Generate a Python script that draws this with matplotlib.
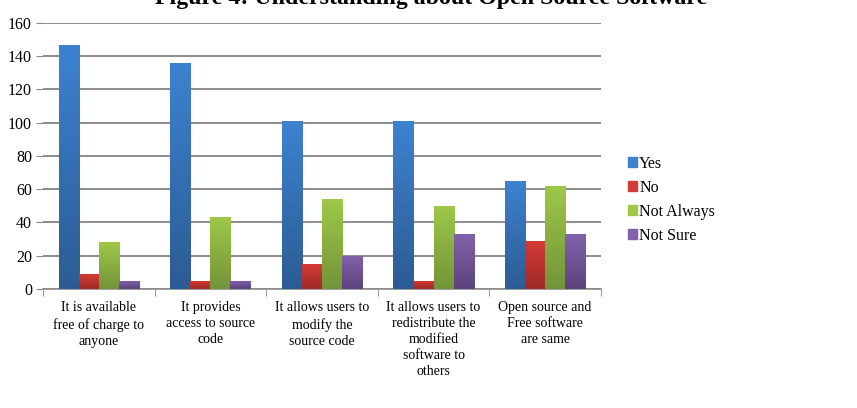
import matplotlib
matplotlib.use("Agg")
import matplotlib.pyplot as plt
import numpy as np

categories = [
    "It is available\nfree of charge to\nanyone",
    "It provides\naccess to source\ncode",
    "It allows users to\nmodify the\nsource code",
    "It allows users to\nredistribute the\nmodified\nsoftware to\nothers",
    "Open source and\nFree software\nare same",
]
series_names = ["Yes", "No", "Not Always", "Not Sure"]
yes = [147, 136, 101, 101, 65]
no = [9, 5, 15, 5, 29]
not_always = [28, 43, 54, 50, 62]
not_sure = [5, 5, 20, 33, 33]
yticks = [0, 20, 40, 60, 80, 100, 120, 140, 160]

# (top colour, bottom colour) for the shaded bars
shades = [("#3d82d0", "#2c5c93"), ("#d43b36", "#9f2a27"),
          ("#9fc848", "#739439"), ("#8262ab", "#5c437e")]

plt.rcParams['font.family'] = ['Liberation Serif', 'DejaVu Serif']

fig = plt.figure(figsize=(8.57, 4.08), dpi=100)
ax = fig.add_axes([0.0502, 0.2917, 0.651, 0.652])

x = np.arange(len(categories))
w = 0.18
values = [yes, no, not_always, not_sure]
handles = []
for i, (vals, name) in enumerate(zip(values, series_names)):
    top, bot = shades[i]
    bars = ax.bar(x + (i - 1.5) * w, vals, width=w, color=top, label=name,
                  zorder=3, edgecolor='none')
    c1 = np.array(matplotlib.colors.to_rgb(top))
    c2 = np.array(matplotlib.colors.to_rgb(bot))
    grad = np.linspace(0, 1, 64)[:, None, None]
    img = c1 * (1 - grad) + c2 * grad
    for b in bars:
        bx, by = b.get_x(), b.get_y()
        im = ax.imshow(img, extent=[bx, bx + b.get_width(), by, by + b.get_height()],
                       aspect='auto', zorder=3, interpolation='bilinear')
        im.set_clip_path(b)
    handles.append(plt.Rectangle((0, 0), 1, 1, color=top))

ax.set_xlim(-0.5, len(categories) - 0.5)
ax.set_ylim(0, 160)
ax.set_yticks(yticks)
ax.tick_params(axis='y', length=5, color='#888888', labelsize=11.5, pad=3)
ax.yaxis.grid(True, color='#8c8c8c', linewidth=1.4, zorder=0)
ax.set_axisbelow(True)

ax.set_xticks(x)
ax.set_xticklabels(categories, fontsize=10, linespacing=1.3)
ax.tick_params(axis='x', length=0, pad=9)
ax.set_xticks(np.arange(-0.5, len(categories)), minor=True)
ax.tick_params(axis='x', which='minor', length=5, color='#888888', direction='out')

for s in ['top', 'right', 'left']:
    ax.spines[s].set_visible(False)
ax.spines['bottom'].set_color('#8c8c8c')
ax.spines['bottom'].set_linewidth(1.2)

fig.legend(handles, series_names, loc='upper left', bbox_to_anchor=(0.716, 0.654),
           frameon=False, fontsize=11.5, handlelength=0.55, handleheight=0.55,
           handletextpad=0.15, labelspacing=0.5)

fig.text(0.503, 0.99, "Figure 4: Understanding about Open Source Software",
         ha='center', va='baseline', fontsize=17.2, fontweight='bold')

fig.savefig("out.png", dpi=100)
